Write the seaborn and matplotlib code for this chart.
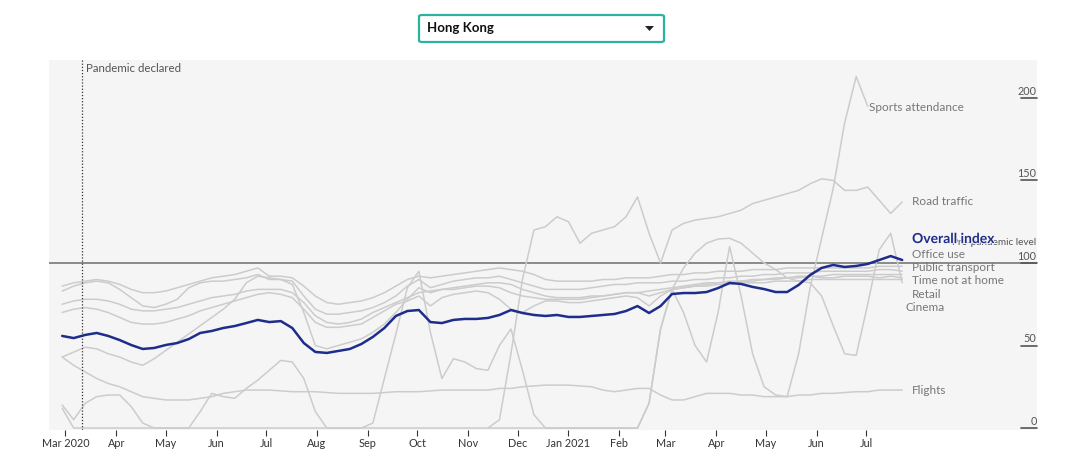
import numpy as np
import pandas as pd
import matplotlib
matplotlib.use("Agg")
import matplotlib.pyplot as plt
import matplotlib.patheffects as pe
from matplotlib.patches import FancyBboxPatch, Polygon
import seaborn as sns

NaN = np.nan
dates = pd.date_range("2020-02-28", periods=74, freq="7D")

overall = [55.8, 54.5, 56.4, 57.6, 55.8, 53.3, 50.3, 47.9, 48.5, 50.3,
           51.5, 53.9, 57.6, 58.8, 60.6, 61.8, 63.6, 65.5, 64.2, 64.8,
           60.6, 51.5, 46.1, 45.5, 46.7, 47.9, 50.9, 55.2, 60.6, 67.9,
           70.9, 71.5, 64.2, 63.6, 65.5, 66.1, 66.1, 66.7, 68.5, 71.5,
           69.7, 68.5, 67.9, 68.5, 67.3, 67.3, 67.9, 68.5, 69.1, 70.9,
           73.9, 69.7, 73.9, 81.2, 81.8, 81.8, 82.4, 84.8, 87.9, 87.3,
           85.5, 84.2, 82.4, 82.4, 86.7, 92.7, 97.0, 98.8, 97.6, 98.2,
           99.4, 101.8, 104.2, 101.8]

office = [86, 88, 89, 90, 89, 87, 84, 82, 82, 83, 85, 87, 89, 91, 92, 93, 95, 97, 92, 92,
          91, 86, 80, 76, 75, 76, 77, 79, 82, 86, 90, 92, 91, 92, 93, 94, 95, 96, 97, 96,
          95, 93, 90, 89, 89, 89, 89, 90, 90, 91, 91, 91, 92, 93, 93, 94, 94, 95, 95, 95,
          96, 96, 96, 97, 97, 97, 97, 97, 97, 97, 97, 98, 98, 98]
transport = [83, 86, 88, 89, 88, 84, 79, 74, 73, 75, 78, 85, 88, 89, 89, 90, 91, 93, 90, 90,
             89, 80, 72, 69, 69, 70, 71, 73, 76, 80, 86, 90, 85, 87, 89, 90, 91, 91, 92, 90,
             88, 86, 84, 84, 84, 84, 85, 86, 87, 87, 88, 88, 88, 89, 89, 90, 90, 91, 91, 92,
             92, 93, 93, 94, 94, 94, 95, 95, 95, 95, 95, 96, 96, 95]
time_home = [75, 77, 78, 78, 77, 75, 72, 71, 71, 72, 73, 75, 77, 79, 80, 81, 83, 84, 84, 84,
             82, 76, 68, 64, 63, 64, 66, 70, 73, 76, 79, 82, 83, 84, 85, 86, 87, 88, 88, 87,
             84, 82, 80, 79, 79, 79, 80, 80, 81, 82, 82, 83, 84, 85, 86, 87, 88, 88, 89, 89,
             90, 90, 91, 91, 92, 92, 92, 93, 93, 93, 93, 93, 93, 93]
retail = [70, 72, 73, 72, 70, 67, 64, 63, 63, 64, 66, 68, 71, 73, 75, 77, 79, 81, 82, 81,
          79, 72, 64, 61, 61, 62, 63, 67, 71, 75, 77, 80, 74, 79, 81, 82, 83, 82, 78, 72,
          70, 74, 77, 77, 76, 76, 77, 78, 79, 80, 79, 74, 80, 84, 85, 86, 87, 88, 88, 89,
          89, 90, 90, 91, 91, 92, 91, 91, 92, 92, 92, 91, 92, 91]
other = [43, 46, 49, 48, 45, 43, 40, 38, 42, 47, 52, 57, 62, 67, 72, 78, 88, 92, 91, 90,
         87, 70, 50, 48, 50, 52, 54, 58, 63, 70, 78, 85, 82, 84, 84, 85, 86, 86, 85, 82,
         80, 79, 78, 78, 78, 78, 79, 80, 81, 82, 82, 80, 82, 84, 85, 86, 86, 87, 87, 88,
         88, 88, 89, 89, 89, 90, 90, 90, 90, 90, 90, 90, 90, 90]
road = [NaN] * 37 + [0, 5, 45, 90, 120, 122, 128, 125, 112, 118, 120, 122, 128, 140, 118,
                     100, 120, 124, 126, 127, 128, 130, 132, 136, 138, 140, 142, 144, 148,
                     151, 150, 144, 144, 146, 138, 130, 137]
cinema = [14, 5, 15, 19, 20, 20, 13, 3, 0, 0, 0, 0, 10, 21, 19, 18, 24, 29, 35, 41,
          40, 30, 10, 0, 0, 0, 0, 3, 30, 57, 85, 95, 58, 30, 42, 40, 36, 35, 50, 60,
          35, 8, 0, 0, 0, 0, 0, 0, 0, 0, 0, 15, 60, 84, 97, 106, 112, 114.5, 115, 112,
          106, 100, 96, 91, 89, 88, 80, 62, 45, 44, 75, 108, 118, 88]
sports = [12] + [0] * 50 + [15, 60, 84, 70, 50, 40, 70, 110, 80, 45, 25, 20, 19, 45, 85,
                            115, 145, 185, 213, 195, NaN, NaN, NaN]
flights = [43, 38, 34, 30, 27, 25, 22, 19, 18, 17, 17, 17, 18, 19, 21, 22, 23, 23, 23, 22.5,
           22, 22, 22, 21.5, 21, 21, 21, 21, 21.5, 22, 22, 22, 22.5, 23, 23, 23, 23, 23, 24, 24,
           25, 25.5, 26, 26, 26, 25.5, 25, 23, 22, 23, 24, 24, 20, 17, 17, 19, 21, 21, 21, 20,
           20, 19, 19, 19, 20, 20, 21, 21, 21.5, 22, 22, 23, 23, 23]

series = {"Office use": office, "Public transport": transport, "Time not at home": time_home,
          "Retail": retail, "Other": other, "Road traffic": road, "Cinema": cinema,
          "Sports attendance": sports, "Flights": flights}

labels = [("Sports attendance", "2021-07-03", 194), ("Road traffic", "2021-07-29", 137),
          ("Office use", "2021-07-29", 105), ("Public transport", "2021-07-29", 97),
          ("Time not at home", "2021-07-29", 89.5), ("Retail", "2021-07-29", 81),
          ("Cinema", "2021-07-25", 73), ("Flights", "2021-07-29", 23)]

yticks = [0, 50, 100, 150, 200]
xtick_dates = pd.date_range("2020-03-01", "2021-07-01", freq="MS")
xtick_labels = [d.strftime("%b") if d.month != 1 else d.strftime("%b %Y") for d in xtick_dates]
xtick_labels[0] = "Mar 2020"

sns.set_theme(style="white")
plt.rcParams["font.family"] = ["Lato", "DejaVu Sans"]

fig = plt.figure(figsize=(10.8, 4.72), dpi=100)
ax = fig.add_axes([49 / 1080, 42 / 472, 988 / 1080, 370 / 472])
bg = "#f5f5f5"
ax.set_facecolor(bg)

grey = "#cccccc"
long = []
for name, vals in series.items():
    long.append(pd.DataFrame({"date": dates, "value": vals, "series": name}))
df = pd.concat(long).dropna()
sns.lineplot(data=df, x="date", y="value", units="series", estimator=None,
             color=grey, lw=1.1, ax=ax, legend=False)
sns.lineplot(x=dates, y=overall, color="#1e2d8c", lw=1.8, ax=ax)

ax.axhline(100, color="#777777", lw=1.2, zorder=1)
pd_date = pd.Timestamp("2020-03-11")
ax.axvline(pd_date, color="#333333", lw=0.9, ls=(0, (1, 1.5)))
ax.text(pd_date + pd.Timedelta(days=2.5), 221, "Pandemic declared", fontsize=8.3,
        color="#555555", va="top", ha="left")

ax.set_xlim(pd.Timestamp("2020-02-20"), pd.Timestamp("2021-10-13"))
ax.set_ylim(-1.2, 223)
ax.set_xticks(xtick_dates)
ax.set_xticklabels(xtick_labels, fontsize=7.8, color="#333333")
ax.tick_params(axis="x", length=4, width=0.8, color="#333333", pad=2, bottom=True)
ax.set_yticks([])
ax.set_xlabel("")
ax.set_ylabel("")
for s in ax.spines.values():
    s.set_visible(False)

trans = matplotlib.transforms.blended_transform_factory(ax.transAxes, ax.transData)
for t in yticks:
    ax.plot([0.9835, 1.0], [t, t], transform=trans, color="#555555", lw=1.2, clip_on=False)
    ax.text(0.9995, t + 0.8, str(t), transform=trans, ha="right", va="bottom",
            fontsize=7.8, color="#555555")

ax.text(0.9995, 100 + 9.5, "Pre-pandemic level", transform=trans, ha="right", va="bottom",
        fontsize=7.2, color="#555555", zorder=5)
for name, d, v in labels:
    ax.text(pd.Timestamp(d), v, name, fontsize=8.5, color="#777777", va="center", ha="left")
ax.text(pd.Timestamp("2021-07-29"), 114.5, "Overall index", fontsize=10, fontweight="bold",
        color="#1e2d8c", va="center", ha="left", zorder=6,
        path_effects=[pe.withStroke(linewidth=1.2, foreground=bg)])

# dropdown
box = FancyBboxPatch((419 / 1080, 1 - 42 / 472), 245 / 1080, 27 / 472,
                     boxstyle="round,pad=0,rounding_size=0.003", transform=fig.transFigure,
                     facecolor="white", edgecolor="#2bb3a0", lw=1.6)
fig.patches.append(box)
fig.text(427 / 1080, 1 - 28 / 472, "Hong Kong", fontsize=9.5, fontweight="bold",
         color="#111111", va="center", ha="left")
tri = Polygon([[645 / 1080, 1 - 26 / 472], [654 / 1080, 1 - 26 / 472],
               [649.5 / 1080, 1 - 31 / 472]], closed=True, transform=fig.transFigure,
              facecolor="#222222", edgecolor="none")
fig.patches.append(tri)

fig.savefig("out.png", dpi=100)
